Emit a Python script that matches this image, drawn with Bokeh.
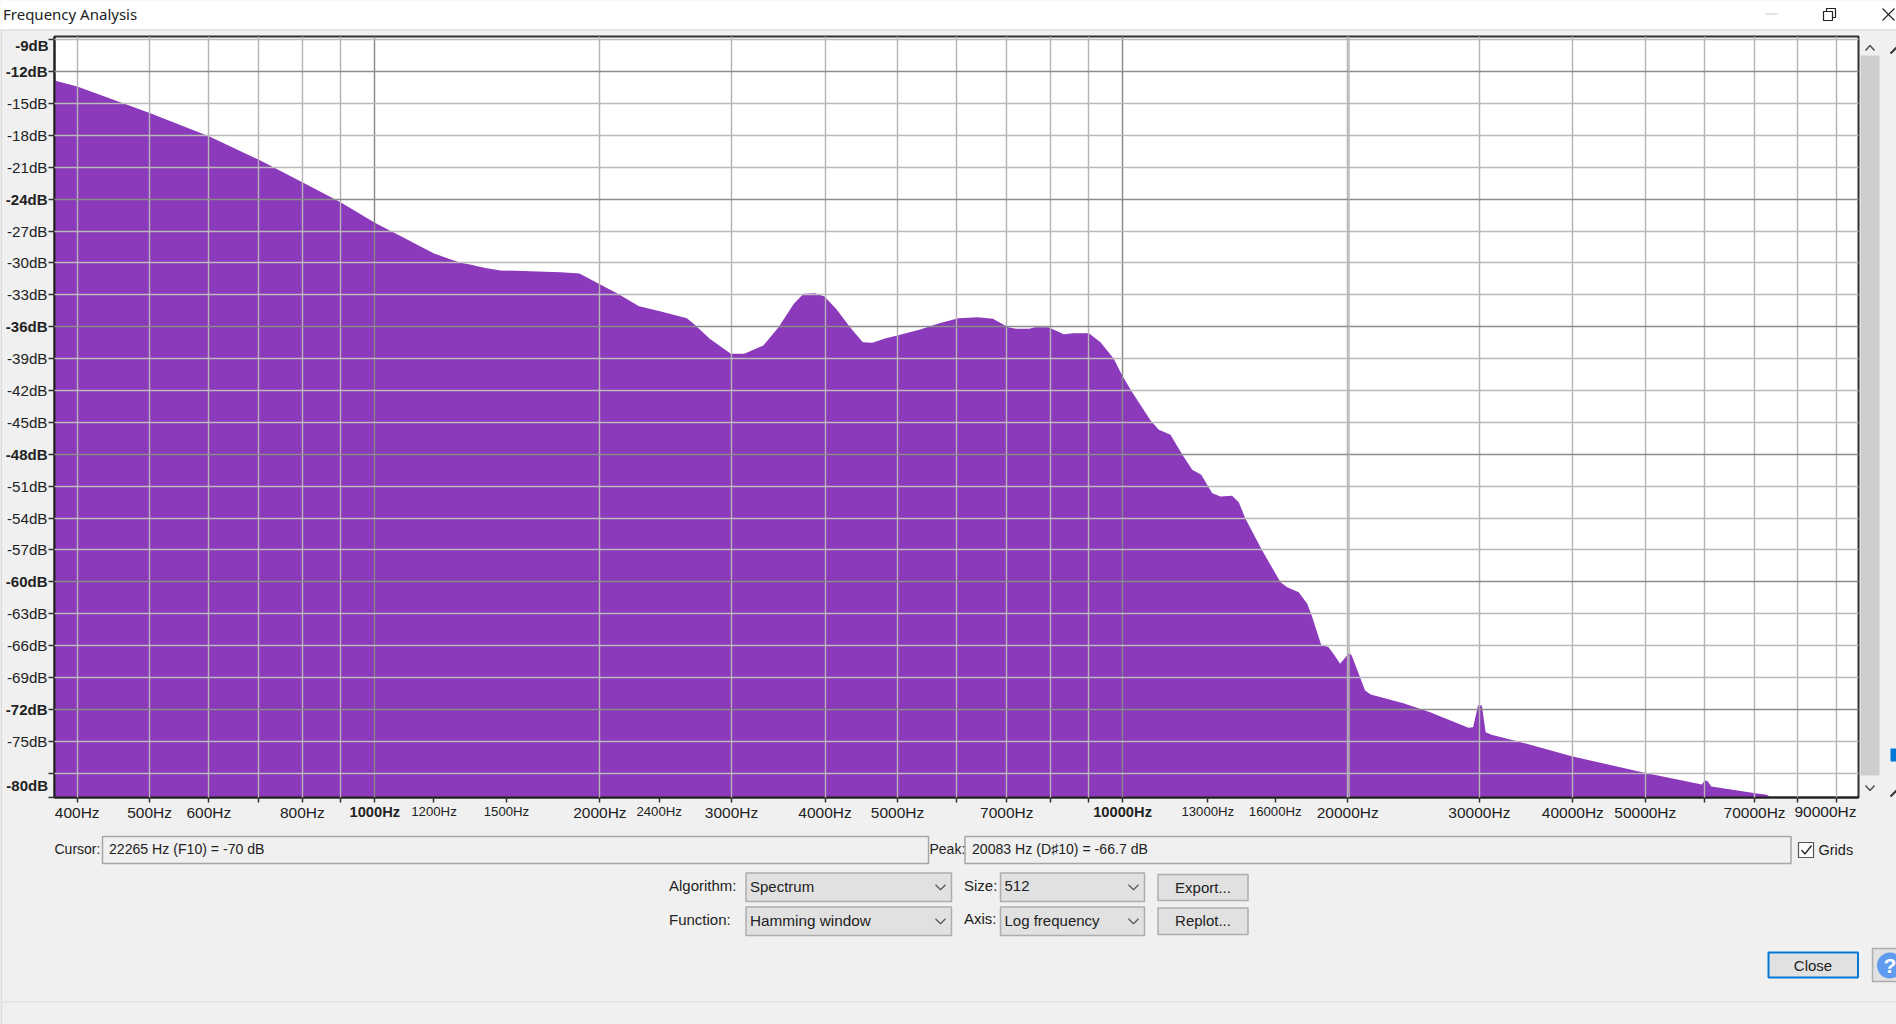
from bokeh.core.properties import value
from bokeh.embed import file_html
from bokeh.resources import INLINE
from bokeh.plotting import figure
from bokeh.models import FixedTicker, Grid, Span

freq_hz = [373, 400, 500, 600, 700, 800, 900, 1000, 1100, 1200, 1250, 1300, 1350, 1400, 1473, 1771, 1878,
           1993, 2114, 2256, 2406, 2614, 2676, 2805, 2993, 3119, 3308, 3467, 3634, 3744, 3879, 3994,
           4138, 4337, 4494, 4627, 4823, 4996, 5363, 5688, 6033, 6400, 6708, 7033, 7200, 7503, 7636,
           7957, 8347, 8594, 9012, 9343, 9732, 9988, 10300, 10900, 11180, 11590, 12020, 12390, 12740,
           13180, 13520, 14010, 14300, 14600, 15370, 16260, 16600, 17200, 17660, 17910, 18430, 18860,
           19210, 19540, 20083, 20250, 20610, 21100, 21470, 23740, 25780, 29000, 29420, 29880, 30230,
           30580, 31130, 33800, 39860, 49860, 59500, 60060, 60570, 61270, 70170, 72700, 73500]
level_db = [-12.83, -13.39, -15.9, -18.07, -20.29, -22.4, -24.28, -26.22, -27.73, -29.1, -29.55, -29.95, -30.2, -30.45, -30.7, -30.87, -30.99,
            -31.96, -32.9, -34.07, -34.54, -35.2, -35.79, -37.14, -38.55, -38.55, -37.77, -36.04, -33.84, -32.9, -32.84, -33.16,
            -34.31, -36.2, -37.46, -37.51, -37.08, -36.83, -36.26, -35.67, -35.2, -35.1, -35.25, -36.04, -36.2, -36.2, -36.04,
            -36.04, -36.7, -36.61, -36.61, -37.46, -39.02, -40.59, -42.16, -44.82, -45.7, -46.17, -48.05, -49.46, -49.93,
            -51.66, -51.98, -51.91, -52.51, -54.07, -57.06, -60.04, -60.51, -60.98, -62.07, -63.22, -65.93, -66.16,
            -66.94, -67.72, -66.7, -66.94, -68.35, -70.23, -70.61, -71.43, -72.27, -73.74, -73.68, -71.64, -71.64,
            -74.15, -74.4, -75.03, -76.41, -77.98, -79.08, -78.7, -78.76, -79.26, -79.89, -80.05, -80.3]

x_start, x_end = 373, 96400
y_top, y_bottom = -8.69, -80.3

grid_minor_hz = [400, 500, 600, 700, 800, 900, 2000, 3000, 4000, 5000, 6000, 7000, 8000, 9000,
                 20000, 30000, 40000, 50000, 60000, 70000, 80000, 90000]
grid_major_hz = [1000, 10000]
x_ticks = sorted(grid_minor_hz + grid_major_hz + [1200, 1500, 2400, 13000, 16000])
x_labels_regular = [400, 500, 600, 800, 2000, 3000, 4000, 5000, 7000, 20000, 30000, 40000, 50000, 70000]
x_labels_bold = [1000, 10000]
x_labels_small = [1200, 1500, 2400, 13000, 16000]

y_minor_db = [-9, -15, -18, -21, -27, -30, -33, -39, -42, -45, -51, -54, -57, -63, -66, -69, -75, -78]
y_major_db = [-12, -24, -36, -48, -60, -72]
y_labels_regular = [-15, -18, -21, -27, -30, -33, -39, -42, -45, -51, -54, -57, -63, -66, -69, -75]
y_labels_bold = [-12, -24, -36, -48, -60, -72]
peak_hz = 20083

BG = "#f0f0f0"
PURPLE = "#8a3abb"
FONT = "Liberation Sans"
TXT = "#222222"
PIN = {"position": "absolute", "left": "0px", "top": "0px"}

# ---- window chrome: a full-page figure whose data units are page pixels
c = figure(width=1896, height=1024, output_backend="svg", toolbar_location=None,
           x_range=(0, 1896), y_range=(1024, 0), x_axis_location=None, y_axis_location=None,
           min_border=0, background_fill_color=BG, border_fill_color=BG, outline_line_color=None,
           styles=PIN)
c.grid.visible = False


def T(x, y, s, size=15, bold=False, align="left", font=FONT, color=TXT):
    c.text([x], [y - 1], text=[s], text_font=value(font), text_font_size=f"{size}px",
           text_font_style="bold" if bold else "normal", text_align=align,
           text_baseline="middle", text_color=color)


def box(x0, y0, x1, y1, line=None, fill=None, w=1.0):
    c.quad(left=[x0], right=[x1], top=[y0], bottom=[y1], fill_color=fill, line_color=line, line_width=w)


def seg(x0, y0, x1, y1, col="#333333", w=1.0):
    c.line([x0, x1], [y0, y1], line_color=col, line_width=w)


def chevron(cx, cy, col="#555555"):
    c.line([cx - 5, cx, cx + 5], [cy - 3, cy + 2, cy - 3], line_color=col, line_width=1.2)


box(0, 0, 1896, 29, None, "#ffffff")
seg(0, 29.5, 1896, 29.5, "#e2e2e2", 1.5)
seg(0.5, 30, 0.5, 1024, "#c8c8c8", 1)
seg(0, 1001.5, 1896, 1001.5, "#e2e2e2", 1.5)
T(2.5, 14.5, "Frequency Analysis", 15, font="Noto Sans")
seg(1765, 13.5, 1777, 13.5, "#c8c8c8", 1)
box(1823, 11, 1832, 20, "#222222", None, 1.2)
c.line([1826, 1826, 1835, 1835, 1832], [11, 8, 8, 17, 17], line_color="#222222", line_width=1.2)
seg(1882, 8, 1894, 20, "#222222", 1.1)
seg(1894, 8, 1882, 20, "#222222", 1.1)

box(1860, 55, 1879, 775, None, "#cdcdcd")
c.line([1865, 1869.5, 1874], [50, 45, 50], line_color="#555555", line_width=1.6)
c.line([1865, 1869.5, 1874], [785, 790, 785], line_color="#555555", line_width=1.6)
box(1890, 748, 1896, 761, None, "#0078d7")
seg(1890, 53, 1896, 47, "#333333", 2)
seg(1890, 796, 1896, 790, "#333333", 2)

T(48, 46, "-9dB", 15, bold=True, align="right")
T(47.5, 786, "-80dB", 15, bold=True, align="right")
T(1825, 812, "90000Hz", 15.5, align="center")

T(54, 849, "Cursor:", 14)
box(102, 836, 928, 863, "#a6a6a6", None, 1.5)
T(108.5, 849, "22265 Hz (F10) = -70 dB", 14.1)
T(929, 849, "Peak:", 14)
box(964.5, 836, 1790.5, 863, "#a6a6a6", None, 1.5)
T(971.5, 849, "20083 Hz (D\u266f10) = -66.7 dB", 14.1)
box(1798, 842, 1813, 857, "#555555", "#ffffff", 1.2)
c.line([1801, 1804.5, 1811], [849.5, 853.5, 845], line_color="#222222", line_width=1.3)
T(1818, 850, "Grids", 14.5)

for (lab, lx, ly, cx0, cx1, cy0, cy1, val, chx) in [
    ("Algorithm:", 668.5, 886, 745.5, 951, 872.5, 901, "Spectrum", 940),
    ("Function:", 668.5, 920, 745.5, 951, 906.5, 935, "Hamming window", 940),
    ("Size:", 963.5, 886, 1000, 1144, 872.5, 901, "512", 1133),
    ("Axis:", 963.5, 919, 1000, 1144, 906.5, 935, "Log frequency", 1133),
]:
    T(lx, ly, lab, 15)
    box(cx0, cy0, cx1, cy1, "#adadad", "#e1e1e1", 1.5)
    T(cx0 + 4, (cy0 + cy1) / 2, val, 15.3 if val == "Hamming window" else 15)
    chevron(chx, (cy0 + cy1) / 2 + 0.5)
for (lab, y0, y1) in [("Export...", 874, 900), ("Replot...", 907.5, 934)]:
    box(1157.5, y0, 1247.5, y1, "#adadad", "#e1e1e1", 1.5)
    T(1202.5, (y0 + y1) / 2 + 0.5, lab, 15, align="center")

box(1768, 952, 1857.5, 977, "#0078d7", "#e1e1e1", 2)
T(1812.5, 965.5, "Close", 15, align="center")
box(1872, 948, 1897, 981, "#adadad", "#e1e1e1", 1.5)
c.scatter([1889.5], [965], size=26, marker="circle", fill_color="#5f9cf0", line_color=None)
T(1889.5, 966, "?", 21, bold=True, align="center", color="#ffffff")


# ---- chart layers sharing one geometry
def layer(background):
    f = figure(width=1896, height=1024, output_backend="svg", toolbar_location=None,
               x_axis_type="log", x_range=(x_start, x_end), y_range=(y_bottom, y_top),
               min_border_left=54, min_border_right=38, min_border_top=36, min_border_bottom=227,
               background_fill_color=background, background_fill_alpha=1.0 if background else 0.0,
               border_fill_alpha=0.0, outline_line_color=None, styles=PIN)
    f.grid.visible = False
    return f


def style_axis(a, ticks, overrides, size, bold=False, standoff=1, tick_len=6, lines=True):
    a.ticker = FixedTicker(ticks=ticks)
    a.major_label_overrides = overrides
    a.major_label_text_font = FONT
    a.major_label_text_font_size = f"{size}px"
    a.major_label_text_font_style = "bold" if bold else "normal"
    a.major_label_text_color = TXT
    a.major_label_standoff = standoff
    a.major_tick_out, a.major_tick_in = tick_len, 0
    a.minor_tick_line_color = None
    if lines:
        a.axis_line_width = 2
        a.axis_line_color = "#202020"
        a.major_tick_line_color = "#303030"
        a.major_tick_line_width = 1.5
    else:
        a.axis_line_color = None
        a.major_tick_line_color = None


p = layer("#ffffff")
p.outline_line_color = "#303030"
p.outline_line_width = 2
p.varea(x=freq_hz, y1=[y_bottom] * len(freq_hz), y2=level_db, fill_color=PURPLE)
for dim, ticks, col in [(0, grid_minor_hz, "#b6b2b6"), (0, grid_major_hz, "#868686"),
                        (1, y_minor_db, "#bcb8bc"), (1, y_major_db, "#8c8c8c")]:
    g = Grid(dimension=dim, ticker=FixedTicker(ticks=ticks), grid_line_color=col, grid_line_width=1.4)
    g.level = "overlay"
    p.add_layout(g)
peak = Span(location=peak_hz, dimension="height", line_color="#b4b4b4", line_width=1.4)
peak.level = "overlay"
p.add_layout(peak)
style_axis(p.xaxis[0], x_ticks, {t: (f"{t}Hz" if t in x_labels_regular else "") for t in x_ticks},
           15.5, standoff=1, tick_len=5)
y_ticks = y_minor_db + y_major_db + [y_bottom]
style_axis(p.yaxis[0], y_ticks, {t: (f"{t}dB" if t in y_labels_regular else "") for t in y_ticks}, 15.2)

bold = layer(None)
style_axis(bold.xaxis[0], x_labels_bold, {t: f"{t}Hz" for t in x_labels_bold}, 14.7, bold=True,
           standoff=1, tick_len=5, lines=False)
style_axis(bold.yaxis[0], y_labels_bold, {t: f"{t}dB" for t in y_labels_bold}, 15, bold=True, lines=False)

small = layer(None)
style_axis(small.xaxis[0], x_labels_small, {t: f"{t}Hz" for t in x_labels_small}, 13.2,
           standoff=1, tick_len=5, lines=False)
small.yaxis[0].visible = False

open("out.html", "w").write(file_html([c, p, bold, small], INLINE))
